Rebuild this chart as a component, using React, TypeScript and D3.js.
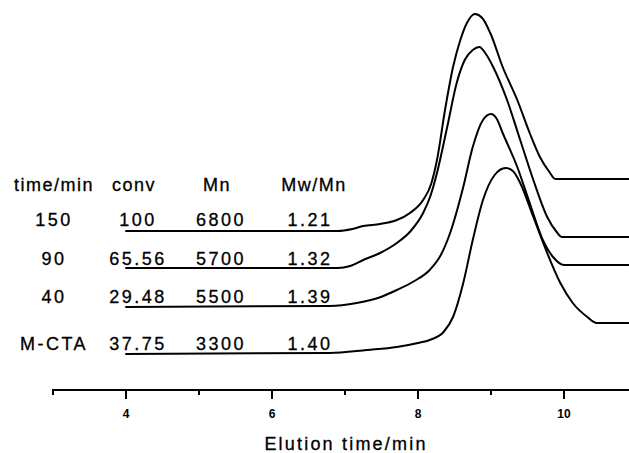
import React from "react";
import * as d3 from "d3";

// ---- data ----
const majorTicks = [4, 6, 8, 10];
const minorTicks = [3, 5, 7, 9, 11];
const xTitle = "Elution time/min";

const headers = ["time/min", "conv", "Mn", "Mw/Mn"];
const times = ["150", "90", "40", "M-CTA"];
const convs = ["100", "65.56", "29.48", "37.75"];
const mns = ["6800", "5700", "5500", "3300"];
const pdis = ["1.21", "1.32", "1.39", "1.40"];

// elution time (min), detector signal (a.u.)
const curve150: [number, number][] = [
  [3.99, 15.9], [6.9, 15.9], [7.1, 16.1], [7.25, 16.4], [7.48, 16.6], [7.71, 17.0],
  [7.89, 17.7], [8.07, 19.0], [8.18, 20.6], [8.26, 23.0], [8.37, 28.0], [8.48, 32.3],
  [8.58, 35.0], [8.67, 36.7], [8.78, 37.6], [8.88, 37.2], [8.99, 35.7], [9.16, 32.3],
  [9.36, 29.0], [9.53, 25.7], [9.67, 23.3], [9.8, 21.8], [9.88, 21.1], [10.89, 21.1],
];
const curve90: [number, number][] = [
  [3.99, 12.2], [6.9, 12.2], [7.07, 12.4], [7.25, 13.0], [7.48, 13.7], [7.71, 14.7],
  [7.9, 15.9], [8.07, 17.7], [8.17, 19.4], [8.26, 21.7], [8.40, 26.3], [8.53, 30.7],
  [8.64, 33.0], [8.75, 34.0], [8.84, 34.3], [8.93, 33.6], [9.03, 32.3], [9.22, 29.0],
  [9.40, 25.0], [9.58, 21.0], [9.77, 17.3], [9.9, 15.8], [9.97, 15.3], [10.89, 15.3],
];
const curve40: [number, number][] = [
  [3.99, 8.3], [6.79, 8.4], [7.16, 8.7], [7.45, 9.2], [7.71, 10.0], [7.95, 10.9],
  [8.16, 12.0], [8.32, 13.6], [8.44, 15.7], [8.62, 20.3], [8.75, 24.3], [8.89, 27.0],
  [9.0, 27.6], [9.08, 27.1], [9.16, 25.7], [9.36, 22.3], [9.53, 18.7], [9.71, 15.0],
  [9.85, 13.3], [10.0, 12.5], [10.89, 12.5],
];
const curveMCTA: [number, number][] = [
  [3.99, 3.6], [6.79, 3.7], [7.3, 4.0], [7.71, 4.3], [8.0, 4.7], [8.16, 5.0],
  [8.35, 5.8], [8.48, 7.3], [8.62, 10.7], [8.75, 15.0], [8.89, 19.0], [9.05, 21.5],
  [9.2, 22.2], [9.3, 21.9], [9.40, 20.7], [9.58, 17.3], [9.77, 13.7], [9.95, 10.7],
  [10.12, 8.7], [10.32, 7.3], [10.45, 6.7], [10.89, 6.7],
];
const curves = [curve150, curve90, curve40, curveMCTA];

// ---- layout ----
const W = 629;
const H = 453;
const axisY = 390;

export default function App() {
  const x = d3.scaleLinear().domain([3, 11]).range([53, 637]);
  const y = d3.scaleLinear().domain([0, 39]).range([axisY, 0]);
  const line = d3
    .line<[number, number]>()
    .x((d) => x(d[0]))
    .y((d) => y(d[1]))
    .curve(d3.curveMonotoneX);

  const font = "'Liberation Sans', Arial, sans-serif";
  const colX = [54, 138, 221, 310];
  const headerX = [54, 134, 217, 314];
  const rowY = [226, 265, 303, 350];
  const cols = [times, convs, mns, pdis];

  return (
    <svg
      width={W}
      height={H}
      style={{ position: "absolute", left: 0, top: 0, background: "#fff" }}
    >
      <rect width={W} height={H} fill="#fff" />
      {curves.map((c, i) => (
        <path key={i} d={line(c) || ""} fill="none" stroke="#000" strokeWidth={2} />
      ))}

      {/* axis */}
      <line x1={52} x2={W} y1={axisY} y2={axisY} stroke="#000" strokeWidth={2} />
      {majorTicks.map((t) => (
        <line key={"M" + t} x1={x(t)} x2={x(t)} y1={axisY} y2={axisY + 9} stroke="#000" strokeWidth={2} />
      ))}
      {minorTicks.map((t) => (
        <line key={"m" + t} x1={x(t)} x2={x(t)} y1={axisY} y2={axisY + 5} stroke="#000" strokeWidth={2} />
      ))}
      {majorTicks.map((t) => (
        <text
          key={"l" + t}
          x={x(t)}
          y={418}
          textAnchor="middle"
          fontFamily={font}
          fontWeight="bold"
          fontSize={12}
        >
          {t}
        </text>
      ))}
      <text
        x={346}
        y={450}
        textAnchor="middle"
        fontFamily={font}
        fontSize={18}
        letterSpacing={2.2}
        stroke="#000"
        strokeWidth={0.3}
      >
        {xTitle}
      </text>

      {/* table */}
      {headers.map((h, i) => (
        <text
          key={"h" + i}
          x={headerX[i]}
          y={191}
          textAnchor="middle"
          fontFamily={font}
          fontSize={18}
          letterSpacing={1.5}
          stroke="#000"
          strokeWidth={0.3}
        >
          {h}
        </text>
      ))}
      {cols.map((col, ci) =>
        col.map((v, ri) => (
          <text
            key={ci + "-" + ri}
            x={colX[ci]}
            y={rowY[ri]}
            textAnchor="middle"
            fontFamily={font}
            fontSize={18}
            letterSpacing={2.5}
            stroke="#000"
            strokeWidth={0.3}
          >
            {v}
          </text>
        ))
      )}
    </svg>
  );
}
